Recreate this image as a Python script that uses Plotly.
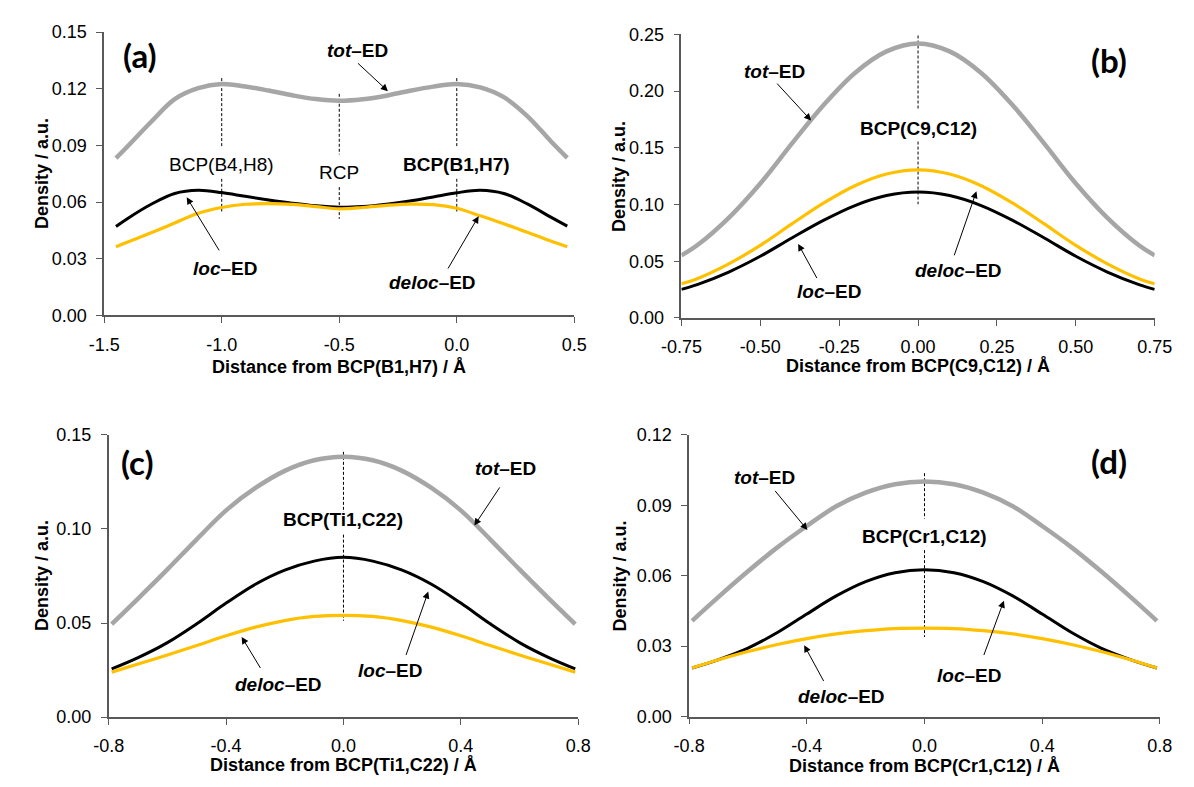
import plotly.graph_objects as go

# ---------------- data ----------------
# Panel (a): distance from BCP(B1,H7)
a_x = [-1.45, -1.4, -1.3, -1.2, -1.1, -1.0, -0.9, -0.8, -0.7, -0.6, -0.5,
       -0.4, -0.3, -0.2, -0.1, 0.0, 0.1, 0.2, 0.3, 0.4, 0.47]
a_tot = [0.0832, 0.0895, 0.1025, 0.1145, 0.1203, 0.1225, 0.1212, 0.1190, 0.1165, 0.1145, 0.1136,
         0.1144, 0.1163, 0.1189, 0.1211, 0.1225, 0.1207, 0.1155, 0.1055, 0.0922, 0.0834]
a_loc = [0.0470, 0.0513, 0.0588, 0.0645, 0.0662, 0.0650, 0.0630, 0.0611, 0.0594, 0.0580, 0.0572,
         0.0576, 0.0588, 0.0605, 0.0627, 0.0649, 0.0662, 0.0645, 0.0590, 0.0520, 0.0472]
a_deloc = [0.0363, 0.0388, 0.0437, 0.0489, 0.0540, 0.0571, 0.0588, 0.0591, 0.0587, 0.0576, 0.0564,
           0.0571, 0.0582, 0.0589, 0.0586, 0.0567, 0.0527, 0.0485, 0.0440, 0.0393, 0.0363]

# Panel (b): distance from BCP(C9,C12)
b_x = [-0.75, -0.7, -0.6, -0.5, -0.4, -0.3, -0.2, -0.1, 0.0, 0.1, 0.2, 0.3, 0.4, 0.5, 0.6, 0.7, 0.75]
b_tot = [0.0552, 0.0641, 0.0883, 0.1186, 0.1537, 0.1875, 0.2160, 0.2350, 0.2420,
         0.2350, 0.2160, 0.1875, 0.1537, 0.1186, 0.0883, 0.0641, 0.0552]
b_loc = [0.0252, 0.0294, 0.0405, 0.0544, 0.0705, 0.0860, 0.0991, 0.1079, 0.1110,
         0.1079, 0.0991, 0.0860, 0.0705, 0.0544, 0.0405, 0.0294, 0.0252]
b_deloc = [0.0301, 0.0346, 0.0477, 0.0640, 0.0829, 0.1012, 0.1166, 0.1269, 0.1306,
           0.1269, 0.1166, 0.1012, 0.0829, 0.0640, 0.0477, 0.0346, 0.0301]

# Panel (c): distance from BCP(Ti1,C22)
c_x = [-0.79, -0.7, -0.6, -0.5, -0.4, -0.3, -0.2, -0.1, 0.0, 0.1, 0.2, 0.3, 0.4, 0.5, 0.6, 0.7, 0.79]
c_tot = [0.0494, 0.0630, 0.0785, 0.0945, 0.1099, 0.1218, 0.1309, 0.1365, 0.1384,
         0.1365, 0.1309, 0.1218, 0.1099, 0.0945, 0.0785, 0.0630, 0.0494]
c_loc = [0.0256, 0.0316, 0.0396, 0.0496, 0.0606, 0.0706, 0.0781, 0.0829, 0.0849,
         0.0829, 0.0781, 0.0706, 0.0606, 0.0496, 0.0396, 0.0316, 0.0256]
c_deloc = [0.0239, 0.0282, 0.0330, 0.0380, 0.0432, 0.0478, 0.0513, 0.0535, 0.0541,
           0.0535, 0.0513, 0.0478, 0.0432, 0.0380, 0.0330, 0.0282, 0.0239]

# Panel (d): distance from BCP(Cr1,C12)
d_x = [-0.79, -0.7, -0.6, -0.5, -0.4, -0.3, -0.2, -0.1, 0.0, 0.1, 0.2, 0.3, 0.4, 0.5, 0.6, 0.7, 0.79]
d_tot = [0.0408, 0.0510, 0.0619, 0.0721, 0.0812, 0.0896, 0.0954, 0.0990, 0.1002,
         0.0990, 0.0954, 0.0896, 0.0812, 0.0721, 0.0619, 0.0510, 0.0408]
d_loc = [0.0207, 0.0243, 0.0292, 0.0358, 0.0437, 0.0514, 0.0575, 0.0613, 0.0626,
         0.0613, 0.0575, 0.0514, 0.0437, 0.0358, 0.0292, 0.0243, 0.0207]
d_deloc = [0.0207, 0.0242, 0.0277, 0.0307, 0.0332, 0.0352, 0.0366, 0.0375, 0.0377,
           0.0375, 0.0366, 0.0352, 0.0332, 0.0307, 0.0277, 0.0242, 0.0207]

# Critical-point marker positions (x) and dashed segment extents (y)
a_cp_x = [-1.0, -0.5, 0.0]
a_cp_upper = [[0.1256, 0.0894], [0.1173, 0.0852], [0.1256, 0.0894]]
a_cp_lower = [[0.0723, 0.0550], [0.0679, 0.0511], [0.0723, 0.0550]]
b_cp_x = [0.0]
b_cp_upper = [[0.249, 0.1833]]
b_cp_lower = [[0.1555, 0.1003]]
c_cp_x = [0.0]
c_cp_upper = [[0.141, 0.109]]
c_cp_lower = [[0.097, 0.0512]]
d_cp_x = [0.0]
d_cp_upper = [[0.1037, 0.0843]]
d_cp_lower = [[0.0709, 0.0339]]

# Tick values and labels
a_xticks = [-1.5, -1.0, -0.5, 0.0, 0.5]
a_xlabels = ["-1.5", "-1.0", "-0.5", "0.0", "0.5"]
a_yticks = [0.0, 0.03, 0.06, 0.09, 0.12, 0.15]
a_ylabels = ["0.00", "0.03", "0.06", "0.09", "0.12", "0.15"]
b_xticks = [-0.75, -0.5, -0.25, 0.0, 0.25, 0.5, 0.75]
b_xlabels = ["-0.75", "-0.50", "-0.25", "0.00", "0.25", "0.50", "0.75"]
b_yticks = [0.0, 0.05, 0.10, 0.15, 0.20, 0.25]
b_ylabels = ["0.00", "0.05", "0.10", "0.15", "0.20", "0.25"]
c_xticks = [-0.8, -0.4, 0.0, 0.4, 0.8]
c_xlabels = ["-0.8", "-0.4", "0.0", "0.4", "0.8"]
c_yticks = [0.0, 0.05, 0.10, 0.15]
c_ylabels = ["0.00", "0.05", "0.10", "0.15"]
d_xticks = [-0.8, -0.4, 0.0, 0.4, 0.8]
d_xlabels = ["-0.8", "-0.4", "0.0", "0.4", "0.8"]
d_yticks = [0.0, 0.03, 0.06, 0.09, 0.12]
d_ylabels = ["0.00", "0.03", "0.06", "0.09", "0.12"]

# ---------------- styling ----------------
W, H = 1194, 787
GREY = "#A6A6A6"
BLACK = "#000000"
ORANGE = "#FFC000"
AXC = "#595959"
FONT = "Liberation Sans, Arial, sans-serif"

fig = go.Figure()

panels = [
    dict(n="", x=a_x, tot=a_tot, loc=a_loc, deloc=a_deloc, cpx=a_cp_x, up=a_cp_upper, lo=a_cp_lower),
    dict(n="2", x=b_x, tot=b_tot, loc=b_loc, deloc=b_deloc, cpx=b_cp_x, up=b_cp_upper, lo=b_cp_lower),
    dict(n="3", x=c_x, tot=c_tot, loc=c_loc, deloc=c_deloc, cpx=c_cp_x, up=c_cp_upper, lo=c_cp_lower),
    dict(n="4", x=d_x, tot=d_tot, loc=d_loc, deloc=d_deloc, cpx=d_cp_x, up=d_cp_upper, lo=d_cp_lower),
]

for p in panels:
    xa, ya = "x" + p["n"], "y" + p["n"]
    dx, dy = [], []
    for cx, u, l in zip(p["cpx"], p["up"], p["lo"]):
        dx += [cx, cx, None, cx, cx, None]
        dy += [u[0], u[1], None, l[0], l[1], None]
    fig.add_trace(go.Scatter(x=dx, y=dy, mode="lines", xaxis=xa, yaxis=ya,
                             line=dict(color=BLACK, width=1, dash="3px,2px"),
                             showlegend=False, hoverinfo="skip"))
    fig.add_trace(go.Scatter(x=p["x"], y=p["tot"], mode="lines", xaxis=xa, yaxis=ya,
                             line=dict(color=GREY, width=4.5, shape="spline", smoothing=1.0),
                             name="tot-ED", showlegend=False))
    fig.add_trace(go.Scatter(x=p["x"], y=p["loc"], mode="lines", xaxis=xa, yaxis=ya,
                             line=dict(color=BLACK, width=3, shape="spline", smoothing=1.0),
                             name="loc-ED", showlegend=False))
    fig.add_trace(go.Scatter(x=p["x"], y=p["deloc"], mode="lines", xaxis=xa, yaxis=ya,
                             line=dict(color=ORANGE, width=3.2, shape="spline", smoothing=1.0),
                             name="deloc-ED", showlegend=False))

geo = {
    "": dict(x0=86, x1=572, y0=313.3, y1=22.6, xr=[-1.5, 0.5], yr=[0, 0.15],
             xt=a_xticks, xl=a_xlabels, yt=a_yticks, yl=a_ylabels),
    "2": dict(x0=682.7, x1=1172, y0=316, y1=25, xr=[-0.75, 0.75], yr=[0, 0.25],
              xt=b_xticks, xl=b_xlabels, yt=b_yticks, yl=b_ylabels),
    "3": dict(x0=90.7, x1=576, y0=725.5, y1=436, xr=[-0.8, 0.8], yr=[0, 0.15],
              xt=c_xticks, xl=c_xlabels, yt=c_yticks, yl=c_ylabels),
    "4": dict(x0=690.7, x1=1177.3, y0=725, y1=436, xr=[-0.8, 0.8], yr=[0, 0.12],
              xt=d_xticks, xl=d_xlabels, yt=d_yticks, yl=d_ylabels),
}

layout = dict(width=W, height=H, margin=dict(l=0, r=0, t=0, b=0),
              paper_bgcolor="white", plot_bgcolor="white", showlegend=False)

axis_common = dict(showline=True, linecolor=AXC, linewidth=1.5, ticks="outside", ticklen=6,
                   tickcolor=AXC, tickwidth=1.3, showgrid=False, zeroline=False,
                   tickfont=dict(family=FONT, size=18, color="black"), fixedrange=True)

for n, g in geo.items():
    layout["xaxis" + n] = dict(axis_common, domain=[g["x0"] / W, g["x1"] / W], range=g["xr"],
                               tickmode="array", tickvals=g["xt"], ticktext=g["xl"], anchor="y" + n,
                               ticklabelstandoff=6)
    layout["yaxis" + n] = dict(axis_common, domain=[1 - g["y0"] / H, 1 - g["y1"] / H], range=g["yr"],
                               tickmode="array", tickvals=g["yt"], ticktext=g["yl"], anchor="x" + n,
                               ticklabelstandoff=6)

fig.update_layout(**layout)

ann = []


def label(n, x, y, text, size=19, family=FONT):
    ann.append(dict(x=x, y=y, xref="x" + n, yref="y" + n, text=text, showarrow=False,
                    xanchor="center", yanchor="middle", font=dict(family=family, size=size, color="black")))


def arrow(n, tail, head):
    ann.append(dict(x=head[0], y=head[1], ax=tail[0], ay=tail[1], xref="x" + n, yref="y" + n,
                    axref="x" + n, ayref="y" + n, text="", showarrow=True, arrowhead=2,
                    arrowsize=1.4, arrowwidth=1, arrowcolor="black", standoff=0, startstandoff=0))


TOT = "<b><i>tot</i>–ED</b>"
LOC = "<b><i>loc</i>–ED</b>"
DELOC = "<b><i>deloc</i>–ED</b>"
PFONT = "Lato, Carlito, Calibri, sans-serif"

# (a)
label("", -0.422, 0.1402, TOT)
arrow("", (-0.427, 0.1342), (-0.293, 0.1187))
label("", -1.0, 0.080, "BCP(B4,H8)")
label("", -0.5, 0.0757, "RCP")
label("", 0.0, 0.080, "<b>BCP(B1,H7)</b>")
label("", -0.984, 0.0246, LOC)
arrow("", (-1.007, 0.0336), (-1.149, 0.0625))
label("", -0.104, 0.0175, DELOC)
arrow("", (-0.041, 0.024), (0.093, 0.0525))
label("", -1.349, 0.1376, "<b>(a)</b>", size=33, family=PFONT)

# (b)
label("2", -0.456, 0.217, TOT)
arrow("2", (-0.451, 0.2079), (-0.339, 0.1741))
label("2", 0.0, 0.167, "<b>BCP(C9,C12)</b>")
label("2", -0.283, 0.0235, LOC)
arrow("2", (-0.318, 0.0338), (-0.380, 0.0653))
label("2", 0.128, 0.0421, DELOC)
arrow("2", (0.113, 0.0539), (0.185, 0.1117))
label("2", 0.606, 0.227, "<b>(b)</b>", size=33, family=PFONT)

# (c)
label("3", 0.552, 0.132, TOT)
arrow("3", (0.536, 0.1229), (0.446, 0.1018))
label("3", 0.0, 0.1048, "<b>BCP(Ti1,C22)</b>")
label("3", 0.159, 0.0246, LOC)
arrow("3", (0.2116, 0.0322), (0.289, 0.0667))
label("3", -0.223, 0.0172, DELOC)
arrow("3", (-0.28, 0.0253), (-0.347, 0.0426))
label("3", -0.701, 0.1354, "<b>(c)</b>", size=33, family=PFONT)

# (d)
label("4", -0.543, 0.1019, TOT)
arrow("4", (-0.512, 0.0968), (-0.398, 0.0795))
label("4", 0.0, 0.0767, "<b>BCP(Cr1,C12)</b>")
label("4", 0.153, 0.0173, LOC)
arrow("4", (0.200, 0.0256), (0.270, 0.0494))
label("4", -0.281, 0.0087, DELOC)
arrow("4", (-0.340, 0.0145), (-0.409, 0.0304))
label("4", 0.628, 0.1089, "<b>(d)</b>", size=33, family=PFONT)

# axis titles (paper coordinates)
xtitles = [
    (329 / W, 1 - 366 / H, "Distance from BCP(B1,H7) / Å"),
    (927 / W, 1 - 365 / H, "Distance from BCP(C9,C12) / Å"),
    (333.4 / W, 1 - 775 / H, "Distance from BCP(Ti1,C22) / Å"),
    (934 / W, 1 - 776 / H, "Distance from BCP(Cr1,C12) / Å"),
]
for x, y, t in xtitles:
    ann.append(dict(x=x, y=y, xref="paper", yref="paper", text="<b>" + t + "</b>", showarrow=False,
                    xanchor="center", yanchor="middle", font=dict(family=FONT, size=18, color="black")))
ytitles = [(21 / W, 1 - 168 / H), (618 / W, 1 - 170.5 / H), (21 / W, 1 - 580.5 / H), (619 / W, 1 - 580.5 / H)]
for x, y in ytitles:
    ann.append(dict(x=x, y=y, xref="paper", yref="paper", text="<b>Density / a.u.</b>", showarrow=False,
                    textangle=-90, xanchor="center", yanchor="middle",
                    font=dict(family=FONT, size=18, color="black")))

fig.update_layout(annotations=ann)

fig.write_html("out.html", config={"displayModeBar": False},
               post_script="document.body.style.margin='0';document.body.style.overflow='hidden';")
